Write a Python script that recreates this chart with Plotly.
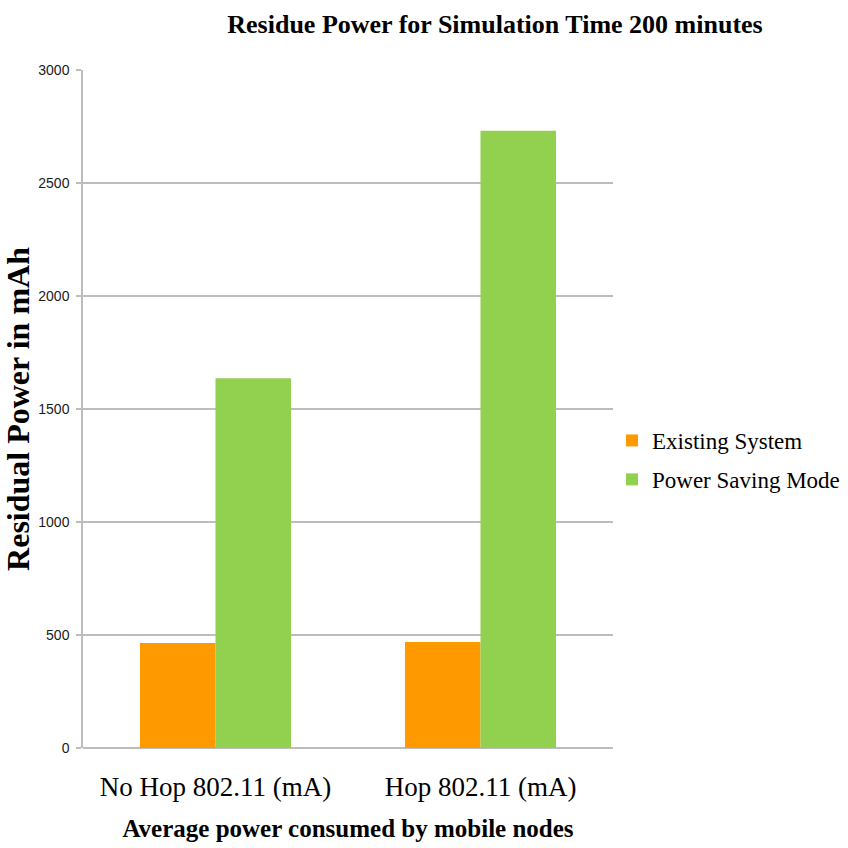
import plotly.graph_objects as go

categories = ["No Hop 802.11 (mA)", "Hop 802.11 (mA)"]
existing_system = [465, 469]
power_saving_mode = [1636, 2731]
y_ticks = [0, 500, 1000, 1500, 2000, 2500, 3000]

serif = "Liberation Serif, Times New Roman, serif"
sans_narrow = "Liberation Sans Narrow, Arial Narrow, Liberation Sans, Arial, sans-serif"

fig = go.Figure()
fig.add_trace(go.Bar(
    x=categories, y=existing_system, name="Existing System",
    marker=dict(color="#FF9900", line=dict(width=0)), legendgroup="a",
))
fig.add_trace(go.Bar(
    x=categories, y=power_saving_mode, name="Power Saving Mode",
    marker=dict(color="#92D050", line=dict(width=0)), legendgroup="b",
))

fig.update_layout(
    width=848, height=848,
    margin=dict(l=83, r=235, t=70, b=100, autoexpand=False),
    paper_bgcolor="white", plot_bgcolor="white",
    barmode="group", bargap=0.43, bargroupgap=0,
    title=dict(
        text="<b>Residue Power for Simulation Time 200 minutes</b>",
        font=dict(family=serif, size=26, color="black"),
        x=495 / 848, xanchor="center", y=1 - 24 / 848, yanchor="middle",
    ),
    legend=dict(
        xref="container", x=612 / 848, xanchor="left",
        yref="container", y=1 - 460 / 848, yanchor="middle",
        font=dict(family=serif, size=23, color="black"),
        tracegroupgap=6, itemclick=False,
        bgcolor="rgba(0,0,0,0)",
    ),
    showlegend=True,
)

fig.update_xaxes(
    automargin=False,
    showgrid=False, showline=False, zeroline=False, ticks="",
    tickfont=dict(family=serif, size=27, color="black"),
    ticklabelstandoff=20,
    title=dict(text="<b>Average power consumed by mobile nodes</b>",
               font=dict(family=serif, size=25, color="black"), standoff=18),
)
fig.update_yaxes(
    automargin=False,
    range=[0, 3000], tickvals=y_ticks,
    showgrid=True, gridcolor="#BDBDBD", gridwidth=1.5,
    showline=True, linecolor="#BDBDBD", linewidth=1.5,
    zeroline=True, zerolinecolor="#BDBDBD", zerolinewidth=1.5,
    ticks="outside", ticklen=5, tickcolor="#BDBDBD", tickwidth=1.5,
    ticklabelstandoff=4,
    tickfont=dict(family=sans_narrow, size=14, color="#1a1a1a"),
    title=dict(text="<b>Residual Power in mAh</b>",
               font=dict(family=serif, size=32, color="black"), standoff=16),
)

fig.write_html("out.html")
